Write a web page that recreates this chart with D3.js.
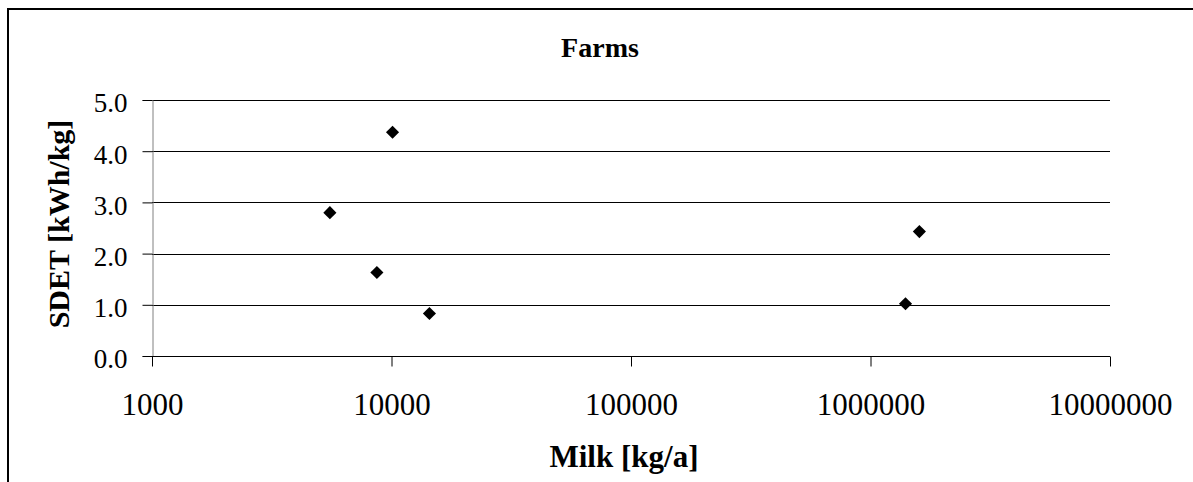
<!DOCTYPE html>
<html>
<head>
<meta charset="utf-8">
<script src="https://cdn.jsdelivr.net/npm/d3@7"></script>
<style>
  body { margin: 0; background: #fff; }
  svg { display: block; }
  text { font-family: "Liberation Serif", "Times New Roman", serif; fill: #000; }
</style>
</head>
<body>
<div id="chart"></div>
<script>
// Data
const milk = [5530, 8690, 10100, 14400, 1400000, 1600000];
const sdet = [2.80, 1.63, 4.37, 0.83, 1.02, 2.43];
const xTicks = [1000, 10000, 100000, 1000000, 10000000];
const yTicks = [0, 1, 2, 3, 4, 5];

const width = 1193, height = 482;
const margin = { left: 152, right: 83, top: 100, bottom: 126 };

const svg = d3.select("#chart").append("svg")
    .attr("width", width)
    .attr("height", height);

// outer chart border (cropped at right/bottom)
svg.append("rect")
    .attr("x", 8).attr("y", 9)
    .attr("width", 1200).attr("height", 500)
    .attr("fill", "none")
    .attr("stroke", "#000")
    .attr("stroke-width", 2);

const x = d3.scaleLog()
    .domain([1000, 10000000])
    .range([margin.left, width - margin.right]);

const y = d3.scaleLinear()
    .domain([0, 5])
    .range([height - margin.bottom, margin.top]);

// gridlines
svg.append("g")
    .selectAll("line")
    .data(yTicks.filter(d => d > 0))
    .enter().append("line")
    .attr("x1", x(1000)).attr("x2", x(10000000))
    .attr("y1", d => Math.round(y(d)) + 0.5)
    .attr("y2", d => Math.round(y(d)) + 0.5)
    .attr("stroke", "#000")
    .attr("stroke-width", 1);

// y axis
const yAxis = svg.append("g")
    .attr("transform", `translate(${x(1000) + 0.5},0)`)
    .call(d3.axisLeft(y).tickValues(yTicks).tickSize(10).tickPadding(15)
        .tickFormat(d3.format(".1f")));
yAxis.select(".domain").attr("stroke", "#808080");
yAxis.selectAll(".tick line").attr("stroke", "#000");
yAxis.selectAll("text")
    .style("font-size", "27px")
    .attr("dy", "0.44em");

// x axis
const xAxis = svg.append("g")
    .attr("transform", `translate(0,${Math.round(y(0)) + 0.5})`)
    .call(d3.axisBottom(x).tickValues(xTicks).tickSize(10)
        .tickFormat(d3.format("d")));
xAxis.select(".domain").attr("stroke", "#000").attr("d", `M${x(1000)},0H${x(10000000)}`);
xAxis.selectAll(".tick line").attr("stroke", "#000");
xAxis.selectAll("text")
    .style("font-size", "31px")
    .attr("y", 58)
    .attr("dy", 0);

// points
svg.append("g")
    .selectAll("path")
    .data(milk)
    .enter().append("path")
    .attr("transform", (d, i) => `translate(${x(d)},${y(sdet[i])})`)
    .attr("d", d3.symbol(d3.symbolDiamond2, 110))
    .attr("fill", "#000");

// titles
svg.append("text")
    .attr("x", 600).attr("y", 57)
    .attr("text-anchor", "middle")
    .style("font-size", "28px")
    .style("font-weight", "bold")
    .text("Farms");

svg.append("text")
    .attr("x", 624).attr("y", 467)
    .attr("text-anchor", "middle")
    .style("font-size", "31px")
    .style("font-weight", "bold")
    .text("Milk [kg/a]");

svg.append("text")
    .attr("transform", "translate(69,224) rotate(-90)")
    .attr("text-anchor", "middle")
    .style("font-size", "30px")
    .style("font-weight", "bold")
    .text("SDET [kWh/kg]");
</script>
</body>
</html>
